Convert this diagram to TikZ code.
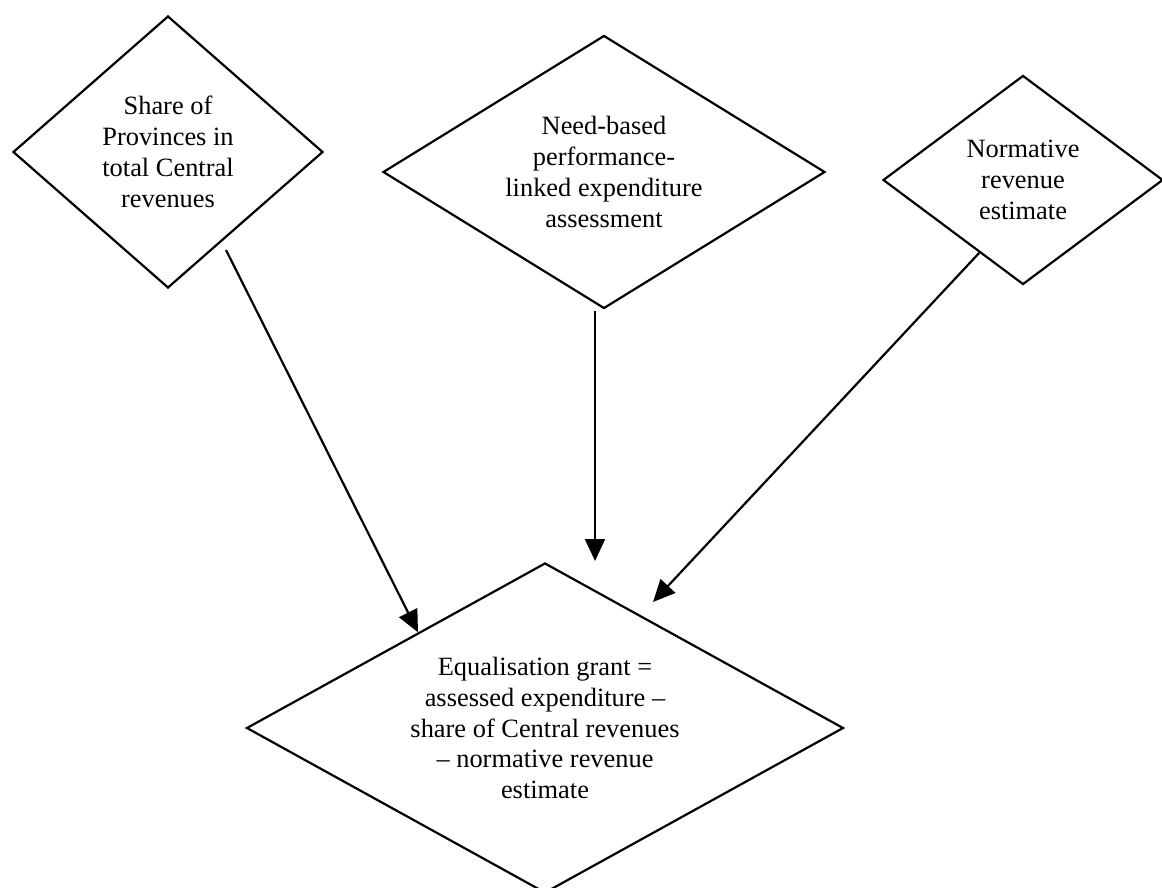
\documentclass[tikz,border=0pt]{standalone}
\usepackage{fontspec}
\setmainfont{Liberation Serif}
\usetikzlibrary{shapes.geometric,arrows.meta}

\begin{document}
\begin{tikzpicture}
[x=0.5pt,y=-0.5pt,
 every node/.style={draw=black,line width=1.1pt,diamond,inner sep=0mm,align=center,font=\fontsize{13.2}{15.4}\selectfont},
 arr/.style={line width=1.1pt,-{Triangle[length=11pt,width=10pt]}}]
\useasboundingbox (0,0) rectangle (1162,888);
\node (share) [aspect=1.14,minimum width=155pt,minimum height=136pt] at (168,152)
  {Share of\\Provinces in\\total Central\\revenues};
\node (need)  [aspect=1.6,minimum width=221pt,minimum height=136.5pt] at (604,172)
  {Need-based\\performance-\\linked expenditure\\assessment};
\node (norm)  [aspect=1.35,minimum width=140pt,minimum height=104.5pt] at (1023,180)
  {Normative\\revenue\\estimate};
\node (grant) [aspect=1.8,minimum width=298.5pt,minimum height=165pt] at (545,728)
  {Equalisation grant =\\assessed expenditure --\\share of Central revenues\\-- normative revenue\\estimate};

% arrow ends that stop short of the diamonds
\coordinate (shareOut) at (226,250);
\coordinate (needOut)  at (595,311);
\coordinate (needIn)   at (595,561);
\coordinate (normIn)   at (653,602);

\draw[arr] (shareOut)   -- (grant.143);
\draw[arr] (needOut)    -- (needIn);
\draw[arr] (norm.239.5) -- (normIn);
\end{tikzpicture}
\end{document}
